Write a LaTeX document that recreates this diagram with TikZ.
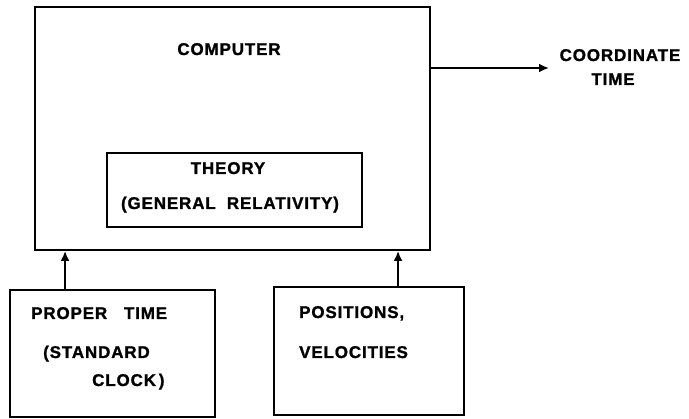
\documentclass[tikz,border=0pt]{standalone}
\usepackage{fontspec}
\setmainfont{Liberation Sans}[LetterSpace=5,BoldFeatures={FakeBold=1.2}]
\usetikzlibrary{arrows.meta}
\begin{document}
\begin{tikzpicture}[x=1pt,y=-1pt,
  box/.style={draw,line width=1.9pt,inner sep=0pt},
  lbl/.style={font=\fontsize{17}{20}\selectfont\bfseries,inner sep=0pt,anchor=base},
  arr/.style={line width=1.9pt,-{Latex[length=10pt,width=9pt]}}]
\useasboundingbox (0,0) rectangle (689,419);
% boxes
\node[box,minimum width=395pt,minimum height=243pt] (computer) at (232.5,128.5) {};
\node[box,minimum width=255pt,minimum height=74pt] (theory) at (234.5,190) {};
\node[box,minimum width=205pt,minimum height=127pt] (proper) at (112.5,353.5) {};
\node[box,minimum width=190pt,minimum height=128pt] (pos) at (369,351) {};
% texts
\node[lbl] (tcomp) at (229,55) {COMPUTER};
\node[lbl] (ttheory) at (228,174) {THEORY};
\node[lbl] (tgr) at (230,209) {(GENERAL\ \ RELATIVITY)};
\node[lbl] (tcoord) at (620,61) {COORDINATE};
\node[lbl] (ttime) at (613,85) {TIME};
\node[lbl,anchor=base west] (tproper) at (31,319) {PROPER\ \ \ TIME};
\node[lbl,anchor=base west] (tstd) at (43,358) {(STANDARD};
\node[lbl,anchor=base west] (tclock) at (92,386) {CLOCK\,)};
\node[lbl,anchor=base west] (tposn) at (299,318) {POSITIONS,};
\node[lbl,anchor=base west] (tvel) at (299,358) {VELOCITIES};
% connectors
\coordinate (ctip) at (549,68);
\draw[arr] (computer.east |- ctip) -- (ctip);
\draw[arr] ([xshift=56pt]proper.north west) -- ([xshift=56pt]proper.north west |- computer.south);
\draw[arr] ([xshift=125pt]pos.north west) -- ([xshift=125pt]pos.north west |- computer.south);
\end{tikzpicture}
\end{document}
